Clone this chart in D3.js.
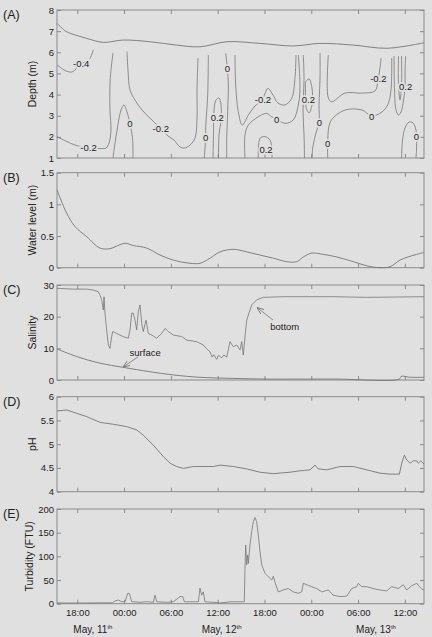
<!DOCTYPE html>
<html>
<head>
<meta charset="utf-8">
<script src="https://cdn.jsdelivr.net/npm/d3@7"></script>
<style>
  body { margin: 0; background: #e0e0e0; }
  svg { display: block; font-family: "Liberation Sans", Arial, sans-serif; }
</style>
</head>
<body>
<div id="chart"></div>
<script>
// ---- data (time in hours since May 11, 00:00) ----
const timeStart = 15.4, timeEnd = 62.45;

const depthTicks = [1, 2, 3, 4, 5, 6, 7, 8];
const levelTicks = [0, 0.5, 1, 1.5];
const salinityTicks = [0, 10, 20, 30];
const phTicks = [4, 4.5, 5, 5.5, 6];
const turbidityTicks = [0, 50, 100, 150, 200];

const dayLabels = [
  {day: "11", h: 20.0},
  {day: "12", h: 36.5},
  {day: "13", h: 56.3}
];

// water surface line in panel A (depth, m)
const surfaceDepth = [[15.4,7.37],[16.1,7.12],[16.64,6.97],[19.2,6.66],[21.34,6.47],[23.9,6.58],[27.3,6.50],
  [30.75,6.34],[33.73,6.26],[37.2,6.50],[41.4,6.42],[45.7,6.30],[49.1,6.42],[53.4,6.34],[57.7,6.19],[62.45,6.45]];

// contour lines in panel A: [hour, depth]
const contourLines = [
  [[15.44,5.40],[16.43,5.14],[17.32,5.07],[18.48,5.45],[19.50,5.64],[20.05,6.11]],
  [[15.40,2.01],[16.55,1.80],[17.71,1.61],[19.37,1.47],[20.91,1.45],[21.68,1.47],[22.07,1.71],[22.32,2.32],[22.19,3.27],[22.19,4.45],[22.32,5.16],[22.58,5.97]],
  [[22.58,1.00],[22.71,1.38],[23.06,2.23],[23.61,3.27],[23.99,3.51],[24.37,3.18],[24.76,2.61],[25.08,1.95],[25.14,1.00]],
  [[24.37,6.03],[24.50,5.16],[24.76,4.22],[25.40,3.74],[26.30,3.27],[27.32,2.89],[28.61,2.42],[29.63,2.04],[30.40,1.85],[31.17,1.52],[31.68,1.47],[32.45,1.61],[33.09,1.95],[33.35,2.80],[33.35,4.22],[33.48,5.73]],
  [[34.80,5.87],[34.72,3.98],[34.46,2.42],[34.46,1.97],[34.28,1.00]],
  [[35.40,1.00],[35.47,2.32],[35.53,3.27],[35.78,3.74],[36.17,3.84],[36.43,3.51],[36.43,2.80],[36.17,2.09],[36.11,1.00]],
  [[37.03,5.95],[37.24,5.24],[37.36,4.45],[37.28,3.19],[37.16,1.93],[37.16,1.00]],
  [[38.22,5.87],[38.31,4.45],[38.64,3.19],[39.16,2.56],[39.93,3.03],[40.78,3.46],[41.68,3.74],[42.45,4.29],[43.09,3.98],[43.73,3.60],[44.63,3.51],[45.49,3.82],[45.91,4.78],[46.04,5.87]],
  [[39.50,1.00],[39.50,2.09],[39.93,2.56],[41.21,2.95],[42.28,3.11],[42.92,2.95],[43.56,2.84],[44.63,2.64],[45.69,2.80],[46.34,3.51],[46.55,4.30],[46.34,5.87]],
  [[41.21,1.00],[41.43,1.93],[42.07,2.01],[42.71,1.85],[42.96,1.38],[42.96,1.00]],
  [[46.98,5.87],[47.07,4.69],[46.94,3.27],[47.07,2.09],[47.13,1.00]],
  [[47.25,4.59],[47.71,4.74],[48.09,4.31],[48.09,3.51],[47.71,3.13],[47.36,3.36],[47.25,3.98],[47.25,4.59]],
  [[49.12,5.97],[49.12,4.78],[48.99,3.51],[48.99,2.70],[48.60,2.18],[48.22,1.57],[48.09,1.00]],
  [[50.10,1.00],[50.10,1.71],[50.27,2.51],[50.66,2.84],[52.32,3.27],[54.50,3.27],[55.75,2.99],[57.07,3.18],[57.84,3.55],[58.22,4.22],[58.31,5.73]],
  [[50.18,5.87],[50.18,3.84],[50.61,3.66],[52.32,4.07],[54.50,4.07],[56.17,4.17],[56.55,4.69],[56.81,5.26],[56.94,5.73]],
  [[58.61,5.82],[58.67,4.22],[58.86,3.27],[59.18,3.03],[59.51,3.18],[59.83,3.74],[60.02,4.36],[60.02,5.16],[60.09,5.82]],
  [[59.18,5.82],[59.18,4.45],[59.38,3.74],[59.57,4.45],[59.57,5.82]],
  [[59.57,1.00],[59.70,1.85],[60.02,2.42],[60.53,2.70],[61.04,2.66],[61.42,2.32],[61.49,1.99],[61.49,1.38],[61.42,1.00]]
];

const contourLabels = [
  {text: "-0.4", h: 18.5, d: 5.45},
  {text: "-0.2", h: 19.44, d: 1.48},
  {text: "0", h: 24.76, d: 2.63},
  {text: "-0.2", h: 28.7, d: 2.38},
  {text: "0", h: 34.46, d: 1.97},
  {text: "0.2", h: 35.95, d: 2.91},
  {text: "0", h: 37.24, d: 5.24},
  {text: "-0.2", h: 41.8, d: 3.78},
  {text: "0", h: 43.56, d: 2.84},
  {text: "0.2", h: 42.2, d: 1.38},
  {text: "0.2", h: 47.62, d: 3.79},
  {text: "0", h: 49.03, d: 2.69},
  {text: "0", h: 50.10, d: 1.70},
  {text: "0", h: 55.75, d: 2.96},
  {text: "-0.2", h: 56.6, d: 4.77},
  {text: "0.2", h: 60.1, d: 4.36},
  {text: "0", h: 61.49, d: 2.0}
];

const waterLevel = [[15.4,1.23],[16.0,1.04],[16.64,0.86],[17.71,0.65],[19.21,0.49],[20.91,0.31],[22.19,0.30],
  [22.84,0.33],[24.12,0.385],[25.18,0.35],[26.90,0.31],[28.61,0.20],[30.31,0.12],[32.45,0.07],[33.73,0.07],
  [35.02,0.15],[36.30,0.25],[38.0,0.29],[39.72,0.25],[41.43,0.20],[43.13,0.15],[44.85,0.095],[46.13,0.095],
  [46.98,0.17],[48.05,0.23],[49.54,0.21],[51.26,0.17],[53.39,0.095],[55.11,0.03],[56.81,0.0],[58.09,0.015],
  [59.37,0.12],[60.66,0.18],[62.45,0.24]];

const salinityBottom = [[15.4,28.95],[17.49,28.7],[19.21,28.7],[20.05,28.4],[20.69,27.9],[20.91,26.8],[21.13,25.3],
  [21.34,22.1],[21.43,26.3],[21.55,21.1],[21.77,15.8],[21.98,11.05],[22.19,10.0],[22.41,13.7],[22.54,15.3],
  [23.05,14.7],[23.90,13.7],[24.54,13.2],[24.76,15.8],[24.98,21.1],[25.18,21.1],[25.40,18.9],[25.62,15.8],
  [25.82,21.6],[26.04,23.7],[26.26,17.9],[26.46,15.3],[26.81,18.9],[27.11,14.7],[27.54,14.2],[28.18,13.2],
  [28.82,14.7],[29.25,16.3],[29.67,15.3],[30.31,14.2],[31.39,13.7],[32.03,12.6],[33.31,12.1],[34.16,11.05],
  [34.6,9.8],[35.02,8.9],[35.3,7.2],[35.5,8.0],[35.87,6.5],[36.1,7.8],[36.52,7.0],[36.8,7.9],[37.16,7.2],
  [37.36,9.5],[37.58,12.1],[38.0,10.5],[38.44,11.05],[38.86,9.5],[39.08,12.1],[39.29,7.9],[39.50,13.7],
  [39.72,18.9],[39.93,20.5],[40.36,23.7],[41.01,25.3],[41.85,26.1],[44.41,26.3],[50.82,26.3],[55.10,26.1],[62.45,26.3]];

const salinitySurface = [[15.4,9.8],[17.93,7.4],[20.91,5.3],[23.90,4.0],[27.32,2.6],[30.31,1.6],[33.73,0.85],
  [38.0,0.5],[42.28,0.3],[50.82,0.3],[59.3,0.3],[59.5,1.1],[59.8,1.2],[60.5,0.9],[62.45,0.85]];

const salinityNotes = [
  {text: "surface", h: 26.7, v: 8.6, from: [25.8, 7.3], to: [23.86, 4.1]},
  {text: "bottom", h: 44.6, v: 17.0, from: [43.09, 18.95], to: [41.04, 22.9]}
];

const ph = [[15.4,5.70],[16.64,5.72],[17.93,5.65],[19.21,5.58],[20.91,5.46],[22.62,5.42],[24.34,5.37],[25.62,5.30],
  [26.46,5.19],[27.75,4.98],[29.03,4.74],[29.89,4.60],[30.75,4.53],[31.60,4.49],[32.87,4.53],[35.44,4.53],
  [36.30,4.56],[38.0,4.53],[39.72,4.48],[41.43,4.41],[43.13,4.38],[45.27,4.41],[46.55,4.44],[47.84,4.46],
  [48.48,4.56],[48.90,4.48],[49.98,4.46],[51.68,4.53],[53.39,4.53],[55.11,4.46],[56.81,4.39],[58.09,4.37],
  [59.29,4.37],[59.60,4.60],[59.93,4.77],[60.23,4.67],[60.66,4.60],[61.08,4.65],[61.52,4.65],[61.72,4.60],
  [62.03,4.65],[62.45,4.58]];

const turbidity = [[15.4,1.5],[19,1.5],[22.5,2],[22.84,5.7],[23.26,7.8],[23.69,4.2],[24.12,4.2],[24.47,22],[24.67,22],
  [24.98,4.2],[26.04,3],[26.90,4.2],[27.75,3],[27.96,18],[28.18,4],[29.46,3],[30.31,4],[31.17,15],[31.52,15],
  [31.72,4],[32.87,4],[33.52,4],[33.73,33],[33.95,18],[34.16,25],[34.37,4],[35.44,3],[36.30,1.5],[37.58,4],
  [38.86,4],[39.41,4],[39.50,75],[39.59,124],[39.72,82],[39.85,103],[39.93,85],[40.14,124],[40.36,152],
  [40.57,173],[40.78,182],[41.0,173],[41.21,145],[41.43,110],[41.65,82],[42.07,64],[42.49,57],[42.93,50],
  [43.13,58],[43.35,45],[43.77,25],[44.41,29],[45.05,32],[45.69,25],[46.34,22],[46.77,25],[46.98,43],
  [47.42,40],[48.05,36],[48.69,32],[49.34,25],[50.18,29],[50.82,18],[51.68,15],[52.54,16],[53.18,32],
  [53.82,36],[54.03,43],[54.47,36],[55.11,36],[55.95,32],[56.81,29],[57.67,27],[58.31,36],[59.16,32],
  [59.80,40],[60.23,29],[60.87,38],[61.52,43],[61.86,36],[62.16,31],[62.45,29]];

// ---- layout ----
const width = 432, height = 637;
const left = 57, right = 424;
const bg = "#e0e0e0", frameCol = "#8a8a8a", lineCol = "#767676", textCol = "#222";

const panels = [
  {tag: "(A)", top: 10, bottom: 158, dom: [1, 8], ticks: depthTicks, label: "Depth (m)", lx: 36},
  {tag: "(B)", top: 172.7, bottom: 267.7, dom: [0, 1.5], ticks: levelTicks, label: "Water level (m)", lx: 36},
  {tag: "(C)", top: 285, bottom: 380, dom: [0, 30], ticks: salinityTicks, label: "Salinity", lx: 36},
  {tag: "(D)", top: 396.7, bottom: 491.7, dom: [4, 6], ticks: phTicks, label: "pH", lx: 36},
  {tag: "(E)", top: 509, bottom: 603.7, dom: [0, 200], ticks: turbidityTicks, label: "Turbidity (FTU)", lx: 33}
];

const T0 = Date.UTC(2000, 4, 11);
const hr = h => new Date(T0 + h * 3600e3);

const svg = d3.select("#chart").append("svg")
  .attr("width", width)
  .attr("height", height);

svg.append("rect").attr("width", width).attr("height", height).attr("fill", bg);

const x = d3.scaleUtc()
  .domain([hr(timeStart), hr(timeEnd)])
  .range([left, right]);
const xTicks = x.ticks(d3.utcHour.every(6));

function styleAxis(g) {
  g.select(".domain").remove();
  g.selectAll(".tick line").attr("stroke", frameCol);
  g.selectAll(".tick text").attr("fill", textCol).style("font-size", "9.5px");
}

panels.forEach((p, i) => {
  p.y = d3.scaleLinear().domain(p.dom).range([p.bottom, p.top]);
  const g = svg.append("g");

  // ticks on all four sides, pointing inward
  g.append("g").attr("transform", `translate(${left},0)`)
    .call(d3.axisLeft(p.y).tickValues(p.ticks).tickFormat(d3.format("~g")).tickSize(-4).tickPadding(3))
    .call(styleAxis);
  g.append("g").attr("transform", `translate(${right},0)`)
    .call(d3.axisRight(p.y).tickValues(p.ticks).tickSize(-4).tickFormat(""))
    .call(styleAxis);
  g.append("g").attr("transform", `translate(0,${p.top})`)
    .call(d3.axisTop(x).tickValues(xTicks).tickSize(-4).tickFormat(""))
    .call(styleAxis);
  const bottomAxis = d3.axisBottom(x).tickValues(xTicks).tickSize(-4).tickPadding(6)
    .tickFormat(i === panels.length - 1 ? d3.utcFormat("%H:%M") : "");
  g.append("g").attr("transform", `translate(0,${p.bottom})`)
    .call(bottomAxis)
    .call(styleAxis);

  g.append("rect")
    .attr("x", left).attr("y", p.top)
    .attr("width", right - left).attr("height", p.bottom - p.top)
    .attr("fill", "none").attr("stroke", frameCol).attr("stroke-width", 1);

  // y label
  g.append("text")
    .attr("transform", `translate(${p.lx},${(p.top + p.bottom) / 2}) rotate(-90)`)
    .attr("text-anchor", "middle")
    .attr("fill", textCol)
    .style("font-size", "10.5px")
    .text(p.label);

  // panel tag
  g.append("text")
    .attr("x", 3).attr("y", p.top + 9)
    .attr("fill", textCol)
    .style("font-size", "12.5px")
    .text(p.tag);

  p.line = d3.line().x(d => x(hr(d[0]))).y(d => p.y(d[1]));
  p.smooth = d3.line().x(d => x(hr(d[0]))).y(d => p.y(d[1])).curve(d3.curveCatmullRom);
});

const [pA, pB, pC, pD, pE] = panels;

function drawSeries(p, data, width, smooth) {
  svg.append("path")
    .datum(data)
    .attr("d", smooth ? p.smooth : p.line)
    .attr("fill", "none")
    .attr("stroke", lineCol)
    .attr("stroke-width", width || 0.9)
    .attr("stroke-linejoin", "round");
}

// Panel A: surface + contours + labels
drawSeries(pA, surfaceDepth, 0.9, true);
contourLines.forEach(c => drawSeries(pA, c, 0.8, true));
svg.append("g").selectAll("text")
  .data(contourLabels)
  .join("text")
    .attr("x", d => x(hr(d.h)))
    .attr("y", d => pA.y(d.d))
    .attr("text-anchor", "middle")
    .attr("dominant-baseline", "central")
    .attr("fill", textCol)
    .attr("stroke", bg)
    .attr("stroke-width", 3.5)
    .attr("paint-order", "stroke")
    .style("font-size", "9.5px")
    .text(d => d.text);

// Panel B
drawSeries(pB, waterLevel, 0.9, true);

// Panel C
drawSeries(pC, salinityBottom, 0.8);
drawSeries(pC, salinitySurface, 0.9, true);

svg.append("defs").append("marker")
  .attr("id", "arrow")
  .attr("viewBox", "0 -5 10 10")
  .attr("refX", 10).attr("refY", 0)
  .attr("markerWidth", 7).attr("markerHeight", 7)
  .attr("markerUnits", "userSpaceOnUse")
  .attr("orient", "auto")
  .append("path")
    .attr("d", "M0,-4L10,0L0,4")
    .attr("fill", "none")
    .attr("stroke", lineCol)
    .attr("stroke-width", 1.2);

salinityNotes.forEach(n => {
  svg.append("line")
    .attr("x1", x(hr(n.from[0]))).attr("y1", pC.y(n.from[1]))
    .attr("x2", x(hr(n.to[0]))).attr("y2", pC.y(n.to[1]))
    .attr("stroke", lineCol).attr("stroke-width", 0.8)
    .attr("marker-end", "url(#arrow)");
  svg.append("text")
    .attr("x", x(hr(n.h))).attr("y", pC.y(n.v))
    .attr("text-anchor", "middle")
    .attr("dominant-baseline", "central")
    .attr("fill", textCol)
    .style("font-size", "9.5px")
    .text(n.text);
});

// Panel D
drawSeries(pD, ph);

// Panel E
drawSeries(pE, turbidity, 0.8);

// day labels under the time axis
const days = svg.append("g").selectAll("text")
  .data(dayLabels)
  .join("text")
    .attr("x", d => x(hr(d.h)))
    .attr("y", 633)
    .attr("text-anchor", "middle")
    .attr("fill", textCol)
    .style("font-size", "10px");
days.append("tspan").text(d => "May, " + d.day);
days.append("tspan").attr("dy", -4).style("font-size", "6px").text("th");
</script>
</body>
</html>
